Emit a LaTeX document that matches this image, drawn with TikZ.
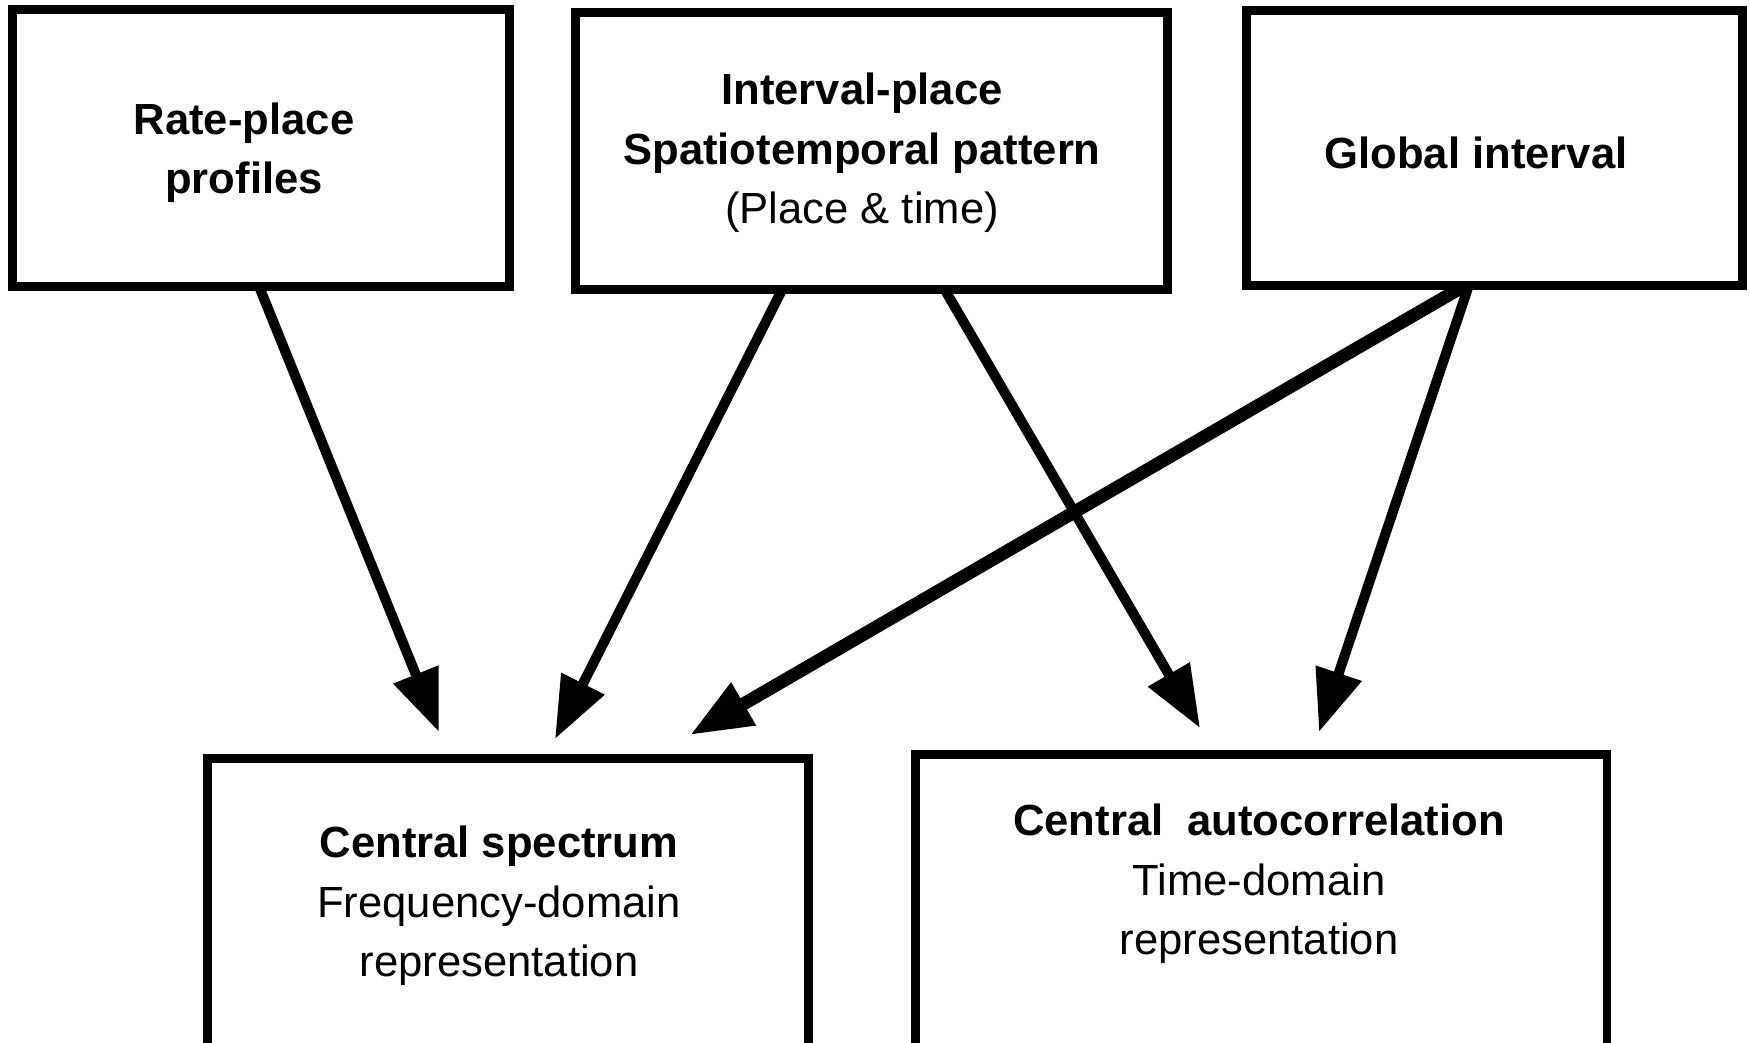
\documentclass[tikz,border=0pt]{standalone}
\usepackage{fontspec}
\setmainfont{Liberation Sans}
\usetikzlibrary{arrows.meta,calc}
\begin{document}
\begin{tikzpicture}[x=0.01cm,y=-0.01cm,
  box/.style={draw=black,line width=2.4pt,inner sep=0pt},
  lbl/.style={align=center,inner sep=0pt,font=\fontsize{12.4pt}{16.9pt}\selectfont},
  arr/.style={line width=2.85pt,-{Triangle[length=6.2mm,width=4.6mm]}},
  arrbig/.style={arr,line width=3.7pt}]
\useasboundingbox (0,0) rectangle (1749,1043);
\fill[white] (0,0) rectangle (1749,1043);
\clip (0,0) rectangle (1749,1043);
% boxes
\node[box,minimum width=4.97cm,minimum height=2.77cm] (rate) at (261,148) {};
\node[box,minimum width=5.92cm,minimum height=2.77cm] (ipl) at (871.5,151) {};
\node[box,minimum width=4.96cm,minimum height=2.75cm] (glob) at (1494.5,148) {};
\node[box,minimum width=6.01cm,minimum height=3.015cm] (spec) at (508,909.25) {};
\node[box,minimum width=6.91cm,minimum height=3.055cm] (auto) at (1261,907.25) {};
% texts
\node[lbl] (ratet) at (244,153) {\textbf{Rate-place}\\\textbf{profiles}};
\node[lbl] (iplt) at (862,153) {\textbf{Interval-place}\\\textbf{Spatiotemporal pattern}\\(Place \& time)};
\node[lbl] (globt) at (1476,153) {\textbf{Global interval}};
\node[lbl] (spect) at (499,906) {\textbf{Central spectrum}\\Frequency-domain\\representation};
\node[lbl] (autot) at (1259,884) {\textbf{Central\hspace{0.55em}autocorrelation}\\Time-domain\\representation};
% arrow end points
\coordinate (t1) at (439,732);
\coordinate (t2) at (555,739);
\coordinate (t3) at (1200,728);
\coordinate (t4) at (690,735);
\coordinate (t5) at (1319,732);
% arrows
\draw[arr] ($(rate.south)+(-1,-2)$) -- (t1);
\draw[arr] ($(ipl.south)+(-90.5,-2)$) -- (t2);
\draw[arr] ($(ipl.south)+(74.5,-2)$) -- (t3);
\draw[arrbig] ($(glob.south)+(-33.5,-2)$) -- (t4);
\draw[arr] ($(glob.south)+(-26.5,-2)$) -- (t5);
\end{tikzpicture}
\end{document}
